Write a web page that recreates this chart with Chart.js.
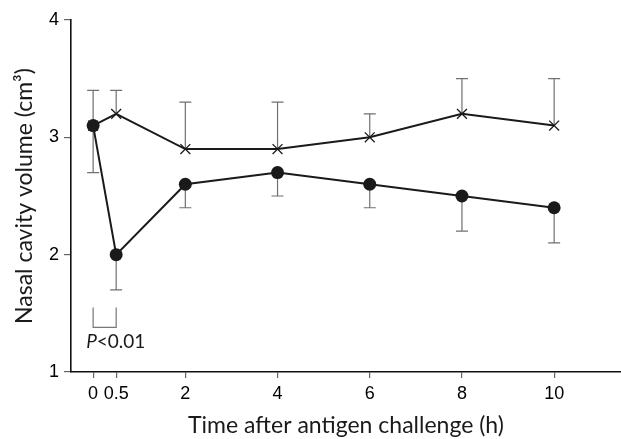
<!DOCTYPE html>
<html><head><meta charset="utf-8">
<script src="https://cdn.jsdelivr.net/npm/chart.js@4"></script>
<style>html,body{margin:0;padding:0;background:#fff}#wrap{width:621px;height:439px;position:relative}</style>
</head><body><div id="wrap"><canvas id="c"></canvas></div>
<script>
const times = [0, 0.5, 2, 4, 6, 8, 10];
const controlMean = [3.1, 3.2, 2.9, 2.9, 3.0, 3.2, 3.1];
const controlUpper = [3.4, 3.4, 3.3, 3.3, 3.2, 3.5, 3.5];
const antigenMean = [3.1, 2.0, 2.6, 2.7, 2.6, 2.5, 2.4];
const antigenLower = [2.7, 1.7, 2.4, 2.5, 2.4, 2.2, 2.1];
const xTicks = [0, 0.5, 2, 4, 6, 8, 10];
const yTicks = [1, 2, 3, 4];
const sigTimes = [0, 0.5];
const sigLabelItalic = 'P';
const sigLabelRest = '<0.01';

const TITLE_FONT = 'Lato, "DejaVu Sans", sans-serif';
const TICK_FONT = '"Liberation Sans", Arial, sans-serif';

const pts = (xs, ys) => xs.map((x, i) => ({x, y: ys[i]}));

const errorBars = {
  id: 'errorBars',
  beforeDatasetsDraw(chart) {
    const ctx = chart.ctx, xs = chart.scales.x, ys = chart.scales.y;
    ctx.save();
    ctx.strokeStyle = '#707070';
    ctx.lineWidth = 1.2;
    chart.data.datasets.forEach(ds => {
      if (!ds.errEnd) return;
      ds.data.forEach((p, i) => {
        const px = xs.getPixelForValue(p.x);
        const y0 = ys.getPixelForValue(p.y);
        const y1 = ys.getPixelForValue(ds.errEnd[i]);
        ctx.beginPath();
        ctx.moveTo(px, y0); ctx.lineTo(px, y1);
        ctx.moveTo(px - 6, y1); ctx.lineTo(px + 6, y1);
        ctx.stroke();
      });
    });
    ctx.restore();
  }
};

const sigPlugin = {
  id: 'sig',
  afterDatasetsDraw(chart) {
    const ctx = chart.ctx, xs = chart.scales.x, ys = chart.scales.y;
    const xa = xs.getPixelForValue(sigTimes[0]);
    const xb = xs.getPixelForValue(sigTimes[1]);
    const yTop = ys.getPixelForValue(1.55);
    const yBot = ys.getPixelForValue(1.38);
    ctx.save();
    ctx.strokeStyle = '#777';
    ctx.lineWidth = 1.2;
    ctx.beginPath();
    ctx.moveTo(xa, yTop); ctx.lineTo(xa, yBot); ctx.lineTo(xb, yBot); ctx.lineTo(xb, yTop);
    ctx.stroke();
    const ty = ys.getPixelForValue(1.255);
    ctx.fillStyle = '#1a1a1a';
    ctx.textBaseline = 'middle';
    ctx.textAlign = 'left';
    ctx.font = 'italic 19px ' + TITLE_FONT;
    const tx = xa - 7;
    ctx.fillText(sigLabelItalic, tx, ty);
    const w = ctx.measureText(sigLabelItalic).width;
    ctx.font = '19px ' + TITLE_FONT;
    ctx.fillText(sigLabelRest, tx + w, ty);
    ctx.restore();
  }
};

new Chart(document.getElementById('c'), {
  type: 'line',
  data: {
    datasets: [
      {
        label: 'antigen',
        data: pts(times, antigenMean),
        errEnd: antigenLower,
        borderColor: '#1a1a1a',
        backgroundColor: '#1a1a1a',
        borderWidth: 2,
        pointStyle: 'circle',
        pointRadius: 6.5,
        pointBackgroundColor: '#1a1a1a',
        pointBorderColor: '#1a1a1a',
        pointBorderWidth: 0,
        tension: 0
      },
      {
        label: 'control',
        data: pts(times, controlMean),
        errEnd: controlUpper,
        borderColor: '#1a1a1a',
        backgroundColor: '#1a1a1a',
        borderWidth: 2,
        pointStyle: 'crossRot',
        pointRadius: 7,
        pointBorderColor: '#1a1a1a',
        pointBorderWidth: 1.3,
        tension: 0
      }
    ]
  },
  plugins: [errorBars, sigPlugin],
  options: {
    responsive: true,
    maintainAspectRatio: false,
    animation: false,
    events: [],
    layout: {autoPadding: false, padding: {left: 0, right: 0, top: 20, bottom: 0}},
    plugins: {legend: {display: false}, tooltip: {enabled: false}},
    scales: {
      x: {
        type: 'linear',
        min: -0.48,
        max: 11.45,
        afterBuildTicks: s => { s.ticks = xTicks.map(v => ({value: v})); },
        afterFit: s => { s.height = 67; s.paddingLeft = 0; s.paddingRight = 0; },
        border: {display: true, color: '#111', width: 1.6},
        grid: {drawOnChartArea: false, drawTicks: true, tickLength: 6, color: '#666', lineWidth: 1.2},
        ticks: {
          font: {family: TICK_FONT, size: 18},
          color: '#000',
          padding: 5,
          maxRotation: 0,
          autoSkip: false,
          callback: v => String(v)
        },
        title: {
          display: true,
          text: 'Time after antigen challenge (h)',
          font: {family: TITLE_FONT, size: 23},
          color: '#1a1a1a',
          padding: {top: 0, bottom: 0}
        }
      },
      y: {
        type: 'linear',
        min: 1,
        max: 4,
        afterBuildTicks: s => { s.ticks = yTicks.map(v => ({value: v})); },
        afterFit: s => { s.width = 71; s.paddingTop = 0; s.paddingBottom = 0; },
        border: {display: true, color: '#111', width: 1.6},
        grid: {drawOnChartArea: false, drawTicks: true, tickLength: 7, color: '#666', lineWidth: 1.2},
        ticks: {
          font: {family: TICK_FONT, size: 18},
          color: '#000',
          padding: 5,
          callback: v => String(v)
        },
        title: {
          display: true,
          text: 'Nasal cavity volume (cm³)',
          font: {family: TITLE_FONT, size: 23},
          color: '#1a1a1a',
          padding: {top: 11, bottom: 0}
        }
      }
    }
  }
});
</script>
</body></html>
